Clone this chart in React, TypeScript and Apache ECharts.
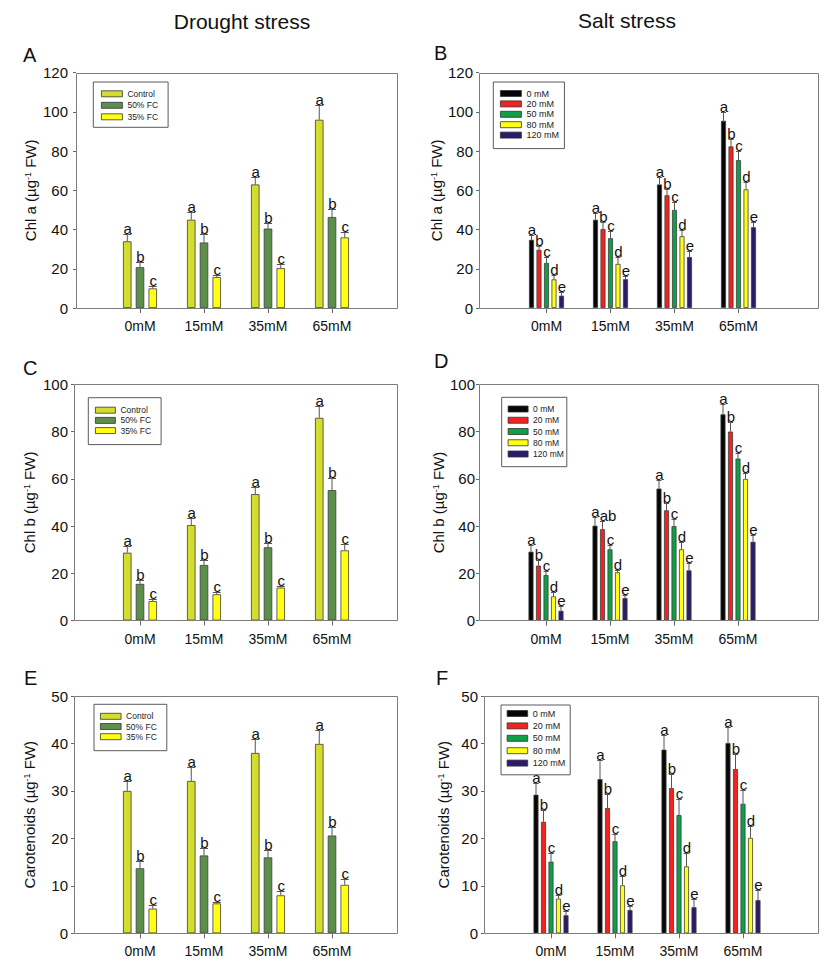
import React, { useEffect, useRef } from 'react';
import * as echarts from 'echarts';

const FONT = "'Liberation Sans', Arial, Helvetica, sans-serif";

// ---------- data ----------
const categories = ['', '0mM', '15mM', '35mM', '65mM', ''];
const droughtNames = ['Control', '50% FC', '35% FC'];
const saltNames = ['0 mM', '20 mM', '50 mM', '80 mM', '120 mM'];
const droughtColors = ['#d2dd2e', '#5e8e4b', '#ffff14'];
const saltColors = ['#060606', '#f2231f', '#0f9f47', '#ffff14', '#2c1b6b'];

// Panel A: Chl a, drought
const aControl = [34, 45, 63, 96];
const a50FC = [20.8, 33.4, 40.5, 46.4];
const a35FC = [10, 15.8, 20.3, 36];
const aControlErr = [3.5, 4, 4, 7.5];
const a50FCErr = [2.9, 4.2, 3, 3.9];
const a35FCErr = [1.2, 1.2, 2.1, 3];

// Panel B: Chl a, salt
const b0 = [34.8, 45, 63, 95.5];
const b20 = [29.7, 40.3, 57.5, 82.4];
const b50 = [23, 35.6, 50, 75.4];
const b80 = [14.6, 22.5, 36.6, 60.5];
const b120 = [6.3, 14.7, 26, 41.2];
const b0Err = [2.5, 3.3, 3.8, 4.5];
const b20Err = [2, 3.4, 3, 4];
const b50Err = [3, 3.6, 4, 4.6];
const b80Err = [2.4, 3.5, 3.1, 3.9];
const b120Err = [1.7, 1.7, 3.2, 2.8];

// Panel C: Chl b, drought
const cControl = [28.7, 40.4, 53.5, 85.8];
const c50FC = [15.5, 23.5, 31, 55.2];
const c35FC = [8.2, 11.1, 13.9, 29.7];
const cControlErr = [2.8, 3.1, 3.1, 5];
const c50FCErr = [1.5, 2.1, 1.8, 5.1];
const c35FCErr = [0.7, 0.9, 0.9, 2.7];

// Panel D: Chl b, salt
const d0 = [29.2, 40.2, 55.9, 87.3];
const d20 = [23.3, 38.7, 46.7, 80];
const d50 = [19.3, 30.2, 40, 68.6];
const d80 = [10.3, 20.5, 30.2, 60];
const d120 = [4.2, 9.6, 21.3, 33.4];
const d0Err = [2.8, 3.5, 3.8, 4.3];
const d20Err = [2.2, 3.5, 3.3, 4];
const d50Err = [1.9, 1.7, 3, 2.5];
const d80Err = [1.7, 0.9, 3.1, 2.6];
const d120Err = [2, 1.4, 3.1, 2.9];

// Panel E: Carotenoids, drought
const eControl = [30, 32.1, 38, 39.9];
const e50FC = [13.7, 16.4, 16, 20.6];
const e35FC = [5.2, 6.3, 8, 10.2];
const eControlErr = [2, 3, 3, 3];
const e50FCErr = [1.5, 1.5, 1.5, 1.7];
const e35FCErr = [0.8, 0.2, 1, 1.3];

// Panel F: Carotenoids, salt
const f0 = [29.2, 32.5, 38.7, 40.1];
const f20 = [23.5, 26.4, 30.6, 34.6];
const f50 = [15.1, 19.4, 24.9, 27.3];
const f80 = [7.3, 10.1, 14.1, 20.1];
const f120 = [3.8, 4.9, 5.5, 7];
const f0Err = [2.5, 4.1, 3, 3.4];
const f20Err = [2.4, 3, 3, 3.2];
const f50Err = [1.8, 1.6, 3.3, 2.8];
const f80Err = [0.8, 1.9, 2.9, 2.6];
const f120Err = [0.8, 0.9, 1.7, 2.2];

// significance letters
const droughtLetters = [
  ['a', 'a', 'a', 'a'],
  ['b', 'b', 'b', 'b'],
  ['c', 'c', 'c', 'c'],
];
const saltLetters = [
  ['a', 'a', 'a', 'a'],
  ['b', 'b', 'b', 'b'],
  ['c', 'c', 'c', 'c'],
  ['d', 'd', 'd', 'd'],
  ['e', 'e', 'e', 'e'],
];
const saltLettersD = [
  ['a', 'a', 'a', 'a'],
  ['b', 'ab', 'b', 'b'],
  ['c', 'c', 'c', 'c'],
  ['d', 'd', 'd', 'd'],
  ['e', 'e', 'e', 'e'],
];

const chlaName = 'Chl a (µg{sup|-1} FW)';
const chlbName = 'Chl b (µg{sup|-1} FW)';
const carName = 'Carotenoids (µg{sup|-1} FW)';

// ---------- layout ----------
type Panel = {
  letter: string; lx: number; ly: number;
  frameL: number; frameR: number; frameT: number; frameB: number;
  firstCenter: number; yMax: number; yInterval: number;
  yName: string; nameGap: number; labelMargin: number;
  names: string[]; colors: string[]; means: number[][]; errs: number[][]; letters: string[][];
  barW: number; cap: number;
  legend: { left: number; top: number; padding: number[]; itemWidth: number; spacing: number; fontSize: number };
};

const SPACING = 64;

const panels: Panel[] = [
  {
    letter: 'A', lx: 23, ly: 54.5, frameL: 76, frameR: 397, frameT: 72.7, frameB: 308,
    firstCenter: 140, yMax: 120, yInterval: 20, yName: chlaName, nameGap: 38, labelMargin: 8,
    names: droughtNames, colors: droughtColors, means: [aControl, a50FC, a35FC],
    errs: [aControlErr, a50FCErr, a35FCErr], letters: droughtLetters, barW: 8.5, cap: 8,
    legend: { left: 93.3, top: 82, padding: [6.8, 10, 5.5, 7.7], itemWidth: 21, spacing: 11.5, fontSize: 8.5 },
  },
  {
    letter: 'B', lx: 434, ly: 53, frameL: 479, frameR: 818, frameT: 72.7, frameB: 308,
    firstCenter: 546.5, yMax: 120, yInterval: 20, yName: chlaName, nameGap: 32, labelMargin: 6,
    names: saltNames, colors: saltColors, means: [b0, b20, b50, b80, b120],
    errs: [b0Err, b20Err, b50Err, b80Err, b120Err], letters: saltLetters, barW: 5, cap: 5,
    legend: { left: 493.3, top: 82, padding: [6.5, 5.5, 8.5, 6.7], itemWidth: 21, spacing: 10.4, fontSize: 9 },
  },
  {
    letter: 'C', lx: 23, ly: 367.8, frameL: 74, frameR: 397, frameT: 384.3, frameB: 620.5,
    firstCenter: 140, yMax: 100, yInterval: 20, yName: chlbName, nameGap: 37, labelMargin: 6,
    names: droughtNames, colors: droughtColors, means: [cControl, c50FC, c35FC],
    errs: [cControlErr, c50FCErr, c35FCErr], letters: droughtLetters, barW: 8.5, cap: 8,
    legend: { left: 88.3, top: 397.7, padding: [7.5, 10, 9, 6.7], itemWidth: 20, spacing: 10.2, fontSize: 8.5 },
  },
  {
    letter: 'D', lx: 434, ly: 361, frameL: 479, frameR: 818, frameT: 384.3, frameB: 620.7,
    firstCenter: 546, yMax: 100, yInterval: 20, yName: chlbName, nameGap: 29, labelMargin: 4,
    names: saltNames, colors: saltColors, means: [d0, d20, d50, d80, d120],
    errs: [d0Err, d20Err, d50Err, d80Err, d120Err], letters: saltLettersD, barW: 5, cap: 5,
    legend: { left: 501.7, top: 397.3, padding: [6.7, 3, 7.7, 6], itemWidth: 20, spacing: 11.25, fontSize: 8.5 },
  },
  {
    letter: 'E', lx: 24, ly: 677.8, frameL: 74, frameR: 397, frameT: 696, frameB: 933.3,
    firstCenter: 140, yMax: 50, yInterval: 10, yName: carName, nameGap: 37, labelMargin: 6,
    names: droughtNames, colors: droughtColors, means: [eControl, e50FC, e35FC],
    errs: [eControlErr, e50FCErr, e35FCErr], letters: droughtLetters, barW: 8.5, cap: 8,
    legend: { left: 94, top: 704.3, padding: [7, 10, 9, 6], itemWidth: 20.7, spacing: 10.2, fontSize: 8.5 },
  },
  {
    letter: 'F', lx: 436, ly: 677.8, frameL: 484, frameR: 818, frameT: 696, frameB: 933.3,
    firstCenter: 551, yMax: 50, yInterval: 10, yName: carName, nameGap: 33, labelMargin: 6,
    names: saltNames, colors: saltColors, means: [f0, f20, f50, f80, f120],
    errs: [f0Err, f20Err, f50Err, f80Err, f120Err], letters: saltLetters, barW: 5, cap: 5.5,
    legend: { left: 501, top: 705, padding: [3.5, 5, 6.7, 5.7], itemWidth: 20.6, spacing: 12.4, fontSize: 9 },
  },
];

function buildOption() {
  const grid: any[] = [];
  const xAxis: any[] = [];
  const yAxis: any[] = [];
  const series: any[] = [];
  const legend: any[] = [];
  const graphic: any[] = [];

  graphic.push({
    type: 'text', x: 242, y: 21, silent: true,
    style: { text: 'Drought stress', font: `21px ${FONT}`, fill: '#111', textAlign: 'center', align: 'center', textVerticalAlign: 'middle', verticalAlign: 'middle' },
  });
  graphic.push({
    type: 'text', x: 627, y: 20, silent: true,
    style: { text: 'Salt stress', font: `21px ${FONT}`, fill: '#111', textAlign: 'center', align: 'center', textVerticalAlign: 'middle', verticalAlign: 'middle' },
  });

  panels.forEach((p, k) => {
    const gridL = p.firstCenter - SPACING;
    grid.push({ left: gridL, top: p.frameT, width: SPACING * 5, height: p.frameB - p.frameT });

    graphic.push({
      type: 'text', x: p.lx, y: p.ly, silent: true,
      style: { text: p.letter, font: `20px ${FONT}`, fill: '#111', textAlign: 'left', align: 'left', textVerticalAlign: 'middle', verticalAlign: 'middle' },
    });
    graphic.push({
      type: 'rect', silent: true, z: 3,
      shape: { x: Math.round(p.frameL) + 0.5, y: Math.round(p.frameT) + 0.5, width: Math.round(p.frameR - p.frameL), height: Math.round(p.frameB - p.frameT) },
      style: { fill: 'none', stroke: '#7d7d7d', lineWidth: 1 },
    });

    xAxis.push({
      type: 'category', gridIndex: k, data: categories, boundaryGap: false,
      axisLine: { show: false },
      axisTick: { show: true, length: 5, interval: (i: number) => i >= 1 && i <= 4, lineStyle: { color: '#666' } },
      axisLabel: { interval: 0, margin: 11, fontSize: 14, color: '#111', fontFamily: FONT },
      splitLine: { show: false },
    });
    yAxis.push({
      type: 'value', gridIndex: k, min: 0, max: p.yMax, interval: p.yInterval,
      offset: gridL - p.frameL,
      name: p.yName, nameLocation: 'middle', nameGap: p.nameGap,
      nameTextStyle: {
        fontSize: 15, color: '#111', fontFamily: FONT,
        rich: { sup: { fontSize: 9, color: '#111', fontFamily: FONT, verticalAlign: 'top' } },
      },
      axisLine: { show: false },
      axisTick: { show: true, length: 3, lineStyle: { color: '#666' } },
      axisLabel: { margin: p.labelMargin, fontSize: 15, color: '#111', fontFamily: FONT },
      splitLine: { show: false },
    });

    p.names.forEach((nm, s) => {
      series.push({
        type: 'bar', name: nm, xAxisIndex: k, yAxisIndex: k,
        data: [null, ...p.means[s], null],
        barWidth: p.barW, barGap: '50%',
        itemStyle: { color: p.colors[s], borderColor: '#3c3c3c', borderWidth: 0.8 },
        emphasis: { disabled: true },
      });
    });

    const n = p.names.length;
    const errData: number[][] = [];
    p.means.forEach((m, s) => m.forEach((v, c) => errData.push([c + 1, v, v + p.errs[s][c]])));
    series.push({
      type: 'custom', xAxisIndex: k, yAxisIndex: k, data: errData, clip: false, z: 5, silent: true,
      renderItem: (params: any, api: any) => {
        const idx = params.dataIndex;
        const s = Math.floor(idx / 4);
        const c = idx % 4;
        const cat = api.value(0);
        const base = api.coord([cat, api.value(1)]);
        const top = api.coord([cat, api.value(2)]);
        const x = base[0] + (s - (n - 1) / 2) * p.barW * 1.5;
        const ty = Math.round(top[1]) + 0.5;
        const txt = p.letters[s][c];
        const shift = txt.length > 1 ? 5.5 : 0.5;
        return {
          type: 'group',
          children: [
            { type: 'line', shape: { x1: x, y1: base[1], x2: x, y2: ty }, style: { stroke: '#555', lineWidth: 1 } },
            { type: 'line', shape: { x1: x - p.cap / 2, y1: ty, x2: x + p.cap / 2, y2: ty }, style: { stroke: '#555', lineWidth: 1 } },
            {
              type: 'text', x: x + shift, y: ty + 1.5,
              style: {
                text: txt, font: `15px ${FONT}`, fill: '#111',
                textAlign: 'center', align: 'center', textVerticalAlign: 'bottom', verticalAlign: 'bottom',
              },
            },
          ],
        };
      },
    });

    legend.push({
      data: p.names, orient: 'vertical', left: p.legend.left, top: p.legend.top,
      padding: p.legend.padding, itemWidth: p.legend.itemWidth, itemHeight: 6,
      itemGap: p.legend.spacing - 10, icon: 'rect',
      borderColor: '#5a5a5a', borderWidth: 1, backgroundColor: '#fff', borderRadius: 0,
      textStyle: { fontSize: p.legend.fontSize, lineHeight: 10, color: '#222', fontFamily: FONT },
      itemStyle: { borderColor: '#333', borderWidth: 0.8 },
      selectedMode: false, z: 10,
    });
  });

  return {
    animation: false,
    backgroundColor: '#ffffff',
    textStyle: { fontFamily: FONT },
    grid, xAxis, yAxis, series, legend, graphic,
  };
}

export default function App() {
  const ref = useRef<HTMLDivElement>(null);
  useEffect(() => {
    if (!ref.current) return;
    const chart = echarts.init(ref.current, null, { renderer: 'svg' });
    chart.setOption(buildOption() as any);
    return () => chart.dispose();
  }, []);
  return (
    <div
      ref={ref}
      style={{ position: 'absolute', left: 0, top: 0, width: 827, height: 973, background: '#fff' }}
    />
  );
}
